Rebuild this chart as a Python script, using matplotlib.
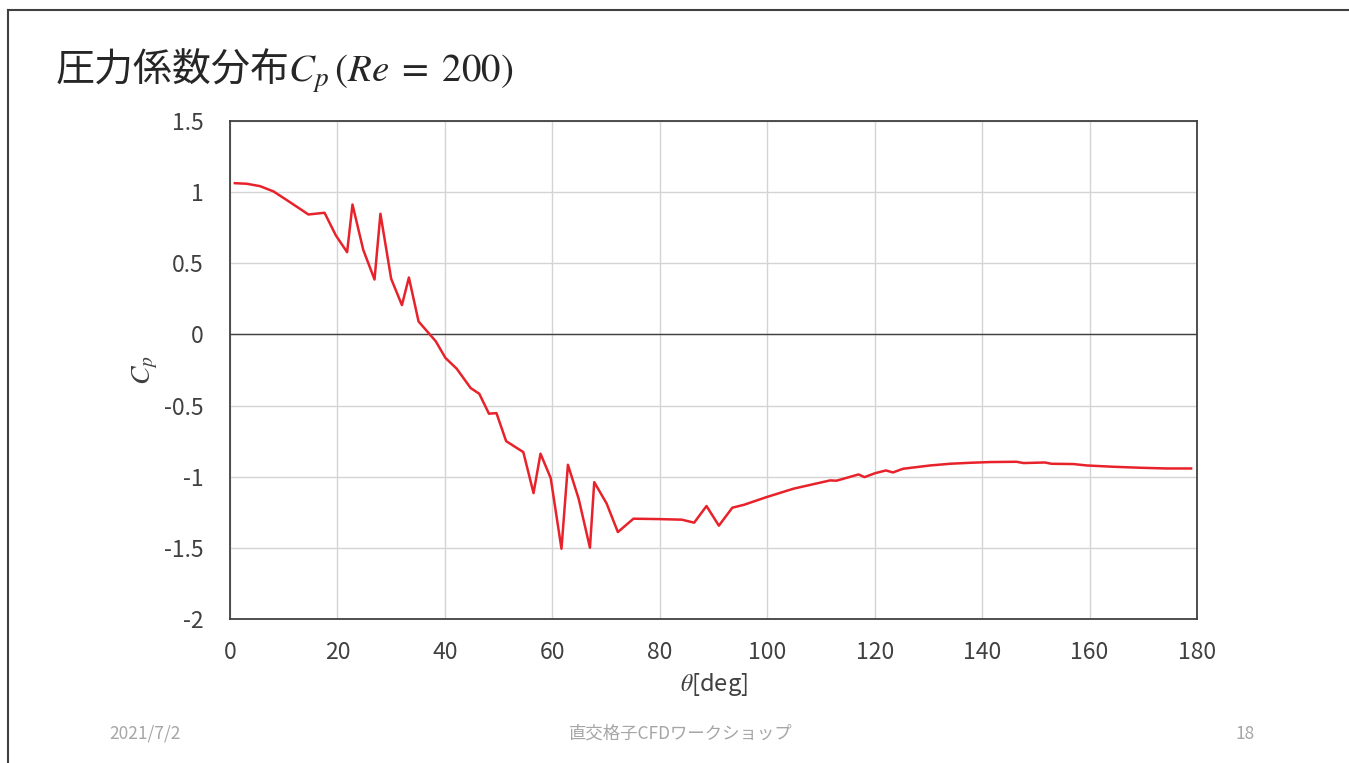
import numpy as np
import matplotlib.pyplot as plt

plt.rcParams['font.family'] = ['Noto Sans CJK JP', 'DejaVu Sans']
plt.rcParams['mathtext.fontset'] = 'stix'

# angle [deg] and pressure coefficient
theta = [0.9, 3.1, 5.6, 8.1, 10.5, 14.6, 17.6, 19.7, 21.8, 22.8, 24.8, 26.9,
         28.0, 30.0, 32.0, 33.3, 35.1, 38.3, 40.1, 42.2, 44.8, 46.4, 48.2,
         49.6, 51.4, 54.6, 56.5, 57.8, 59.7, 61.7, 62.9, 64.9, 67.0, 67.8,
         70.1, 72.2, 75.1, 80.0, 84.1, 86.4, 88.7, 91.0, 93.5, 95.7, 99.9,
         104.9, 111.7, 112.9, 117.0, 118.1, 120.1, 122.1, 123.4, 125.3,
         130.3, 134.0, 137.8, 141.5, 146.4, 147.7, 151.7, 152.9, 157.0,
         159.5, 164.4, 169.4, 174.3, 178.9]
cp = [1.063, 1.059, 1.042, 1.005, 0.946, 0.843, 0.855, 0.696, 0.578, 0.913,
      0.595, 0.386, 0.848, 0.391, 0.206, 0.400, 0.091, -0.048, -0.165,
      -0.241, -0.377, -0.417, -0.557, -0.553, -0.750, -0.827, -1.115,
      -0.838, -1.010, -1.506, -0.916, -1.155, -1.499, -1.038, -1.188,
      -1.389, -1.295, -1.298, -1.302, -1.323, -1.206, -1.344, -1.218,
      -1.197, -1.143, -1.084, -1.026, -1.028, -0.984, -1.003, -0.975,
      -0.956, -0.970, -0.944, -0.921, -0.909, -0.902, -0.897, -0.895,
      -0.904, -0.900, -0.909, -0.911, -0.921, -0.930, -0.937, -0.942,
      -0.942]

xticks = [0, 20, 40, 60, 80, 100, 120, 140, 160, 180]
yticks = [-2, -1.5, -1, -0.5, 0, 0.5, 1, 1.5]
ytick_labels = ['-2', '-1.5', '-1', '-0.5', '0', '0.5', '1', '1.5']

W, H = 1349, 763
fig = plt.figure(figsize=(W / 100, H / 100), dpi=100)

# slide frame (top and left edges only)
fig.add_artist(plt.Line2D([8 / W, 1], [1 - 10 / H, 1 - 10 / H], color='#404040', lw=1.5))
fig.add_artist(plt.Line2D([8 / W, 8 / W], [0, 1 - 10 / H], color='#404040', lw=1.5))

ax = fig.add_axes([230 / W, 1 - 619 / H, 967 / W, 498 / H])
ax.plot(theta, cp, color='#e8222b', lw=1.8, zorder=3)
ax.axhline(0, color='#404040', lw=1.0, zorder=2)

ax.set_xlim(0, 180)
ax.set_ylim(-2, 1.5)
ax.set_xticks(xticks)
ax.set_yticks(yticks)
ax.set_yticklabels(ytick_labels)
ax.grid(True, color='#d4d4d4', lw=1.0)
ax.tick_params(length=0, labelsize=16.5, labelcolor='#404040')
ax.tick_params(axis='x', pad=16)
ax.tick_params(axis='y', pad=19)
for s in ax.spines.values():
    s.set_color('#404040')
    s.set_linewidth(1.3)

ax.set_xlabel(r'$\theta$[deg]', fontsize=17, color='#404040', labelpad=5)
ax.set_ylabel(r'$C_p$', fontsize=20, color='#404040', labelpad=3)

fig.text(55 / W, 1 - 82 / H, r'圧力係数分布$C_p\,(Re\;=\;200)$', fontsize=28,
         color='#262626', va='baseline', ha='left')

fig.text(145 / W, 1 - 734 / H, '2021/7/2', fontsize=12.5, color='#a6a6a6', ha='center', va='center')
fig.text(681 / W, 1 - 734 / H, '直交格子CFDワークショップ', fontsize=12.5, color='#a6a6a6', ha='center', va='center')
fig.text(1245 / W, 1 - 734 / H, '18', fontsize=12.5, color='#a6a6a6', ha='center', va='center')

fig.savefig('out.png', dpi=100)
